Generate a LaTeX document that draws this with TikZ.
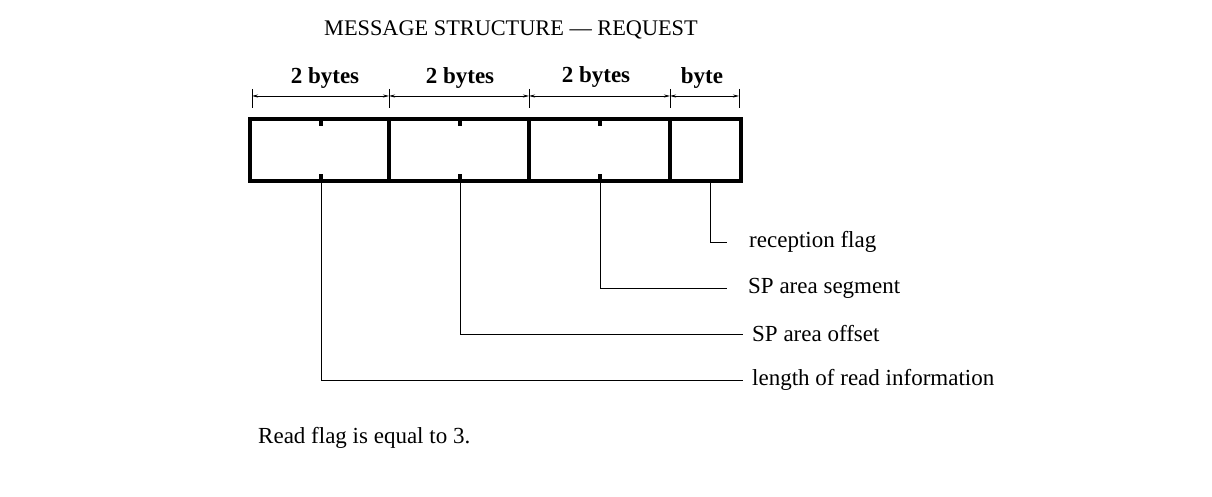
\documentclass[tikz,border=0pt]{standalone}
\usepackage{fontspec}
\setmainfont{Liberation Serif}
\usetikzlibrary{arrows.meta}
\begin{document}
\begin{tikzpicture}[x=1pt,y=-1pt,
  txt/.style={inner sep=0pt,font=\fontsize{23}{27}\selectfont},
  lbl/.style={txt,anchor=west},
  hdr/.style={txt,font=\fontsize{23}{27}\selectfont\bfseries},
  box/.style={line width=4.5pt},
  thin/.style={line width=1pt},
  dim/.style={line width=0.8pt,{Stealth[length=6pt,width=3pt]}-{Stealth[length=6pt,width=3pt]}}]
\useasboundingbox (0,0) rectangle (1212,497);
\node[txt,font=\fontsize{22.3}{26}\selectfont] (title) at (511,30) {MESSAGE STRUCTURE — REQUEST};
% box
\draw[box] (250,119) rectangle (741,181);
\draw[box] (389,119) -- (389,181);
\draw[box] (529,119) -- (529,181);
\draw[box] (670,119) -- (670,181);
% dimension ticks
\foreach \x/\n in {252/a,389/b,529/c,670/d,739/e}{
  \coordinate (t\n) at (\x,96);
  \draw[thin] (\x,89) -- (\x,108);
}
\draw[dim] (ta) -- (tb);
\draw[dim] (tb) -- (tc);
\draw[dim] (tc) -- (td);
\draw[dim] (td) -- (te);
\node[hdr] (h1) at (325,78) {2 bytes};
\node[hdr] (h2) at (460,78) {2 bytes};
\node[hdr] (h3) at (596,77) {2 bytes};
\node[hdr] (h4) at (702,78) {byte};
% nubs
\foreach \x in {321,460,600}{
  \fill (\x-2,119) rectangle (\x+2,126);
  \fill (\x-2,174) rectangle (\x+2,181);
}
% labels
\node[lbl] (l1) at (749,242) {reception flag};
\node[lbl] (l2) at (748,288) {SP area segment};
\node[lbl] (l3) at (752,334) {SP area offset};
\node[lbl] (l4) at (752,380) {length of read information};
\coordinate (s1) at (710,181);
\coordinate (s2) at (600,181);
\coordinate (s3) at (460,181);
\coordinate (s4) at (321,181);
\draw[thin] (s1) |- (727,242);
\draw[thin] (s2) |- (727,288);
\draw[thin] (s3) |- (743,334);
\draw[thin] (s4) |- (743,380);
\node[lbl] (note) at (258,438) {Read flag is equal to 3.};
\end{tikzpicture}
\end{document}
